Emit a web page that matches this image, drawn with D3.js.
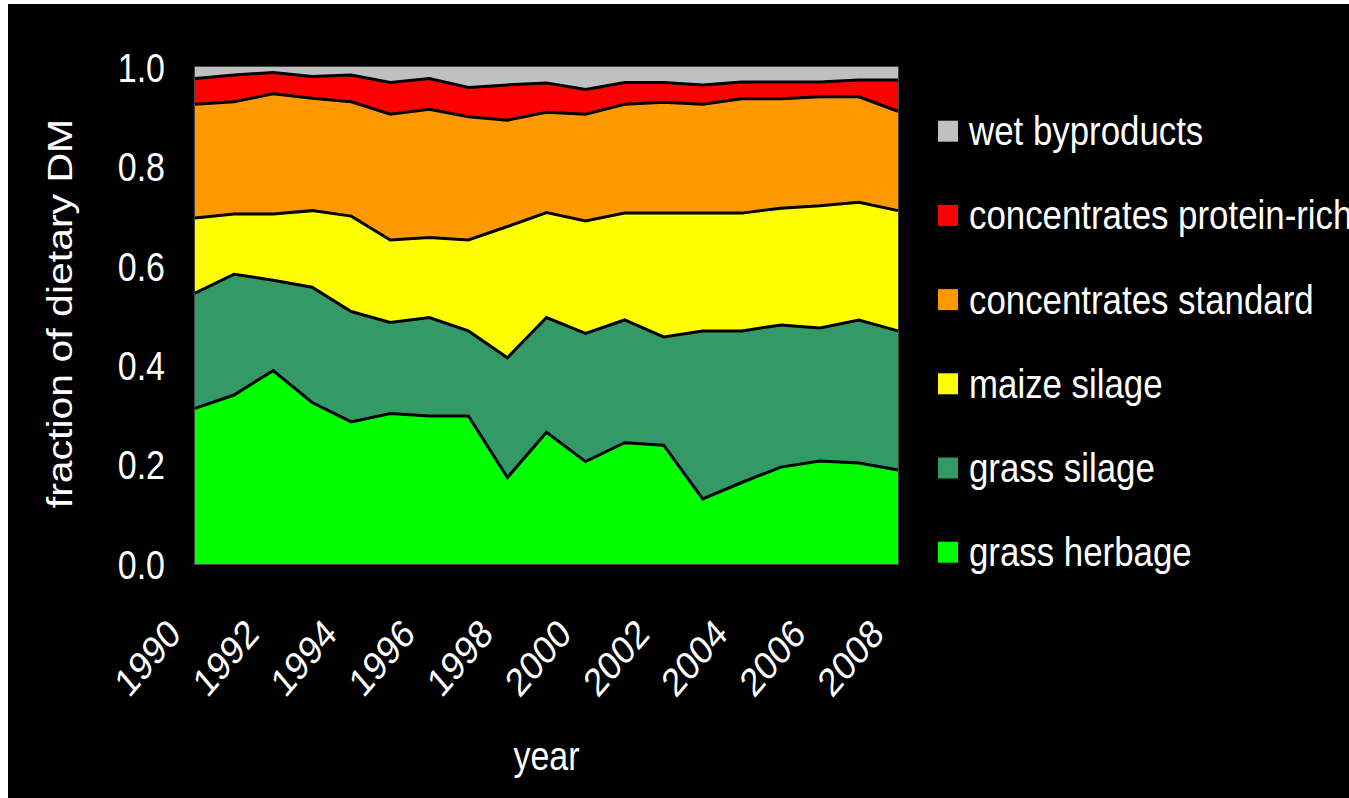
<!DOCTYPE html>
<html>
<head>
<meta charset="utf-8">
<script src="https://cdn.jsdelivr.net/npm/d3@7"></script>
<style>
  html, body { margin: 0; padding: 0; background: #ffffff; }
  svg { display: block; }
  text { font-family: "Liberation Sans", Arial, sans-serif; fill: #ffffff; }
</style>
</head>
<body>
<svg id="chart" width="1349" height="798"></svg>
<script>
// ---- data ----
const years = [1990,1991,1992,1993,1994,1995,1996,1997,1998,1999,2000,2001,2002,2003,2004,2005,2006,2007,2008];
const xTickYears = [1990,1992,1994,1996,1998,2000,2002,2004,2006,2008];
const yTickValues = [0, 0.2, 0.4, 0.6, 0.8, 1.0];

const grassHerbage   = [0.313,0.340,0.389,0.325,0.286,0.303,0.298,0.298,0.174,0.265,0.206,0.244,0.239,0.131,0.164,0.195,0.207,0.203,0.189];
const grassSilage    = [0.232,0.243,0.182,0.232,0.222,0.183,0.198,0.171,0.241,0.231,0.258,0.247,0.218,0.338,0.305,0.286,0.268,0.288,0.280];
const maizeSilage    = [0.151,0.121,0.133,0.154,0.192,0.166,0.161,0.183,0.264,0.211,0.226,0.215,0.249,0.237,0.237,0.235,0.246,0.237,0.242];
const concStandard   = [0.229,0.226,0.242,0.226,0.230,0.253,0.258,0.248,0.214,0.202,0.215,0.219,0.223,0.219,0.230,0.220,0.219,0.212,0.200];
const concProtein    = [0.052,0.054,0.043,0.044,0.054,0.064,0.062,0.059,0.071,0.059,0.050,0.044,0.040,0.039,0.034,0.034,0.030,0.034,0.063];
const wetByproducts  = [0.023,0.016,0.011,0.019,0.016,0.031,0.023,0.041,0.036,0.032,0.045,0.031,0.031,0.036,0.030,0.030,0.030,0.026,0.026];

const seriesNames  = ["grass herbage","grass silage","maize silage","concentrates standard","concentrates protein-rich","wet byproducts"];
const seriesValues = [grassHerbage, grassSilage, maizeSilage, concStandard, concProtein, wetByproducts];
const seriesColors = ["#00FF00","#339966","#FFFF00","#FF9900","#FF0000","#C0C0C0"];
const legendOrder  = ["wet byproducts","concentrates protein-rich","concentrates standard","maize silage","grass silage","grass herbage"];

// ---- table for the stack ----
const table = years.map((yr, i) => {
  const row = { year: yr };
  seriesNames.forEach((n, k) => { row[n] = seriesValues[k][i]; });
  return row;
});

const W = 1349, H = 798;
const margin = { left: 195, right: 451, top: 67, bottom: 234 };
const SX = 0.85; // horizontal squash of the glyphs in the reference

const svg = d3.select("#chart");

// black background (small white edge at top/left as in reference)
svg.append("rect").attr("x", 8).attr("y", 4).attr("width", W - 8).attr("height", H - 4).attr("fill", "#000000");

const x = d3.scaleLinear().domain([1990, 2008]).range([margin.left, W - margin.right]);
const y = d3.scaleLinear().domain([0, 1]).range([H - margin.bottom, margin.top]);

// plot border
svg.append("rect")
  .attr("x", x(1990) - 0.5).attr("y", y(1) - 0.5)
  .attr("width", x(2008) - x(1990) + 1).attr("height", y(0) - y(1) + 1)
  .attr("fill", "none").attr("stroke", "#444444").attr("stroke-width", 1);

const stack = d3.stack().keys(seriesNames);
const stacked = stack(table);

const area = d3.area()
  .x(d => x(d.data.year))
  .y0(d => y(d[0]))
  .y1(d => y(d[1]));

const line = d3.line()
  .x(d => x(d.data.year))
  .y(d => y(d[1]));

svg.append("g").selectAll("path")
  .data(stacked)
  .join("path")
  .attr("d", area)
  .attr("fill", (d, i) => seriesColors[i]);

svg.append("g").selectAll("path")
  .data(stacked.filter(s => s.key !== "wet byproducts"))
  .join("path")
  .attr("d", line)
  .attr("fill", "none")
  .attr("stroke", "#000000")
  .attr("stroke-width", 3)
  .attr("stroke-linejoin", "miter");

// ---- y axis ----
const yAxis = d3.axisLeft(y).tickValues(yTickValues).tickFormat(d3.format(".1f")).tickSize(0);
const gy = svg.append("g").attr("transform", `translate(${margin.left},0)`).call(yAxis);
gy.select(".domain").remove();
gy.selectAll(".tick text")
  .attr("x", null).attr("dy", null)
  .attr("text-anchor", "end")
  .attr("fill", "#ffffff")
  .style("font-size", "40px")
  .attr("transform", `translate(-30,14.3) scale(${SX},1)`);

// ---- x axis ----
const xAxis = d3.axisBottom(x).tickValues(xTickYears).tickFormat(d3.format("d")).tickSize(0);
const gx = svg.append("g").attr("transform", `translate(0,${y(0)})`).call(xAxis);
gx.select(".domain").remove();
gx.selectAll(".tick text")
  .attr("y", null).attr("dy", null)
  .attr("text-anchor", "end")
  .attr("fill", "#ffffff")
  .style("font-size", "40px")
  .attr("transform", `translate(-13,72) scale(${SX},1) rotate(-45)`);

// ---- axis titles ----
svg.append("text")
  .attr("text-anchor", "middle")
  .style("font-size", "41px")
  .attr("transform", `translate(72,${(y(0) + y(1)) / 2 - 2}) scale(${SX},1) rotate(-90)`)
  .text("fraction of dietary DM");

svg.append("text")
  .attr("text-anchor", "middle")
  .style("font-size", "40px")
  .attr("transform", `translate(${(x(1990) + x(2008)) / 2},770) scale(${SX},1)`)
  .text("year");

// ---- legend ----
const ly = d3.scaleLinear().domain([0, legendOrder.length - 1]).range([131.2, 552.2]);
const legend = svg.append("g");
legendOrder.forEach((name, i) => {
  const k = seriesNames.indexOf(name);
  const cy = ly(i);
  legend.append("rect")
    .attr("x", 938).attr("y", cy - 10.5)
    .attr("width", 20).attr("height", 21)
    .attr("fill", seriesColors[k]);
  legend.append("text")
    .style("font-size", "41px")
    .attr("transform", `translate(969,${cy + 14}) scale(${SX},1)`)
    .text(name);
});
</script>
</body>
</html>
